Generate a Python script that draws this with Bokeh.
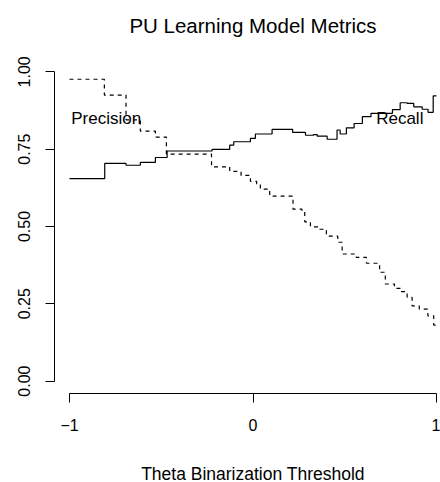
from bokeh.plotting import figure
from bokeh.models import Range1d, LinearAxis, FixedTicker, Label
from bokeh.embed import file_html
from bokeh.resources import INLINE

# Step-function metrics over the theta binarization threshold
precision_theta = [-1.0, -0.81, -0.692, -0.614, -0.532, -0.472, -0.226, -0.127, -0.065,
                   -0.014, 0.02, 0.04, 0.091, 0.218, 0.267, 0.282, 0.313, 0.356, 0.40,
                   0.462, 0.486, 0.563, 0.618, 0.69, 0.721, 0.771, 0.806, 0.84, 0.867,
                   0.906, 0.953, 0.985, 1.0]
precision = [0.976, 0.925, 0.845, 0.808, 0.789, 0.734, 0.693, 0.678, 0.665, 0.646, 0.638,
             0.621, 0.598, 0.556, 0.548, 0.515, 0.499, 0.491, 0.469, 0.449, 0.411, 0.40,
             0.381, 0.352, 0.314, 0.30, 0.289, 0.271, 0.243, 0.233, 0.211, 0.181, 0.181]

recall_theta = [-1.0, -0.808, -0.692, -0.614, -0.532, -0.468, -0.223, -0.127, -0.105,
                -0.014, 0.013, 0.104, 0.216, 0.286, 0.33, 0.35, 0.404, 0.458, 0.475,
                0.509, 0.551, 0.596, 0.643, 0.76, 0.802, 0.84, 0.876, 0.922, 0.954,
                0.982, 1.0]
recall = [0.655, 0.704, 0.698, 0.707, 0.723, 0.744, 0.749, 0.763, 0.774, 0.785, 0.799,
          0.814, 0.804, 0.795, 0.797, 0.792, 0.782, 0.812, 0.799, 0.819, 0.833, 0.855,
          0.866, 0.878, 0.90, 0.898, 0.887, 0.879, 0.869, 0.922, 0.922]

x_ticks = [-1, 0, 1]
x_tick_labels = {-1: "\u22121", 0: "0", 1: "1"}
y_ticks = [0, 0.25, 0.5, 0.75, 1.0]
y_tick_labels = {0: "0.00", 0.25: "0.25", 0.5: "0.50", 0.75: "0.75", 1: "1.00"}

FONT = "Liberation Sans"
WIDTH, HEIGHT = 440, 482
LEFT = 54                       # room for the y axis
PX_PER_X, X0_PX = 183.5, 252.5   # screen scale of the theta axis
PX_PER_Y, Y0_PX = 309.26, 380.6  # screen scale of the metric axis

# The frame spans the full canvas height so title and axis title can live in data space;
# the x axis is pinned just below the data (R-style 4% padding).
x_range = Range1d((LEFT - X0_PX) / PX_PER_X, (WIDTH - X0_PX) / PX_PER_X)
y_range = Range1d(-(HEIGHT - Y0_PX) / PX_PER_Y, Y0_PX / PX_PER_Y)

p = figure(width=WIDTH, height=HEIGHT, output_backend="svg", toolbar_location=None,
           x_range=x_range, y_range=y_range, x_axis_type=None, y_axis_type=None,
           min_border_left=LEFT, min_border_right=0, min_border_top=0, min_border_bottom=0)
p.outline_line_color = None
p.xgrid.visible = False
p.ygrid.visible = False
p.background_fill_color = "white"
p.border_fill_color = "white"

xaxis = LinearAxis(bounds=(-1, 1), ticker=FixedTicker(ticks=x_ticks), fixed_location=-0.04)
xaxis.major_label_overrides = x_tick_labels
xaxis.major_label_standoff = 17
yaxis = LinearAxis(bounds=(0, 1), ticker=FixedTicker(ticks=y_ticks))
yaxis.major_label_overrides = y_tick_labels
yaxis.major_label_orientation = "parallel"
yaxis.major_label_standoff = 15
for ax in (xaxis, yaxis):
    ax.axis_line_color = "black"
    ax.axis_line_width = 1
    ax.major_tick_line_color = "black"
    ax.major_tick_out = 9
    ax.major_tick_in = 0
    ax.minor_tick_line_color = None
    ax.major_label_text_font = FONT
    ax.major_label_text_font_size = "16px"
    ax.major_label_text_color = "black"
p.add_layout(xaxis, "below")
p.add_layout(yaxis, "left")

p.step(precision_theta, precision, mode="after", line_color="black",
       line_width=1.2, line_dash="4 4")
p.step(recall_theta, recall, mode="after", line_color="black", line_width=1.2)

for x, text in [(-0.8, "Precision"), (0.8, "Recall")]:
    p.add_layout(Label(x=x, y=0.85, text=text, text_align="center",
                       text_baseline="middle", text_font=FONT,
                       text_font_size="17px", text_color="black"))

p.add_layout(Label(x=0, y=(Y0_PX - 25) / PX_PER_Y, text="PU Learning Model Metrics",
                   text_align="center", text_baseline="alphabetic", text_font=FONT,
                   text_font_size="20.5px", text_color="black"))
p.add_layout(Label(x=0, y=(Y0_PX - 473) / PX_PER_Y, text="Theta Binarization Threshold",
                   text_align="center", text_baseline="alphabetic", text_font=FONT,
                   text_font_size="17.5px", text_color="black"))

open("out.html", "w").write(file_html(p, INLINE))
